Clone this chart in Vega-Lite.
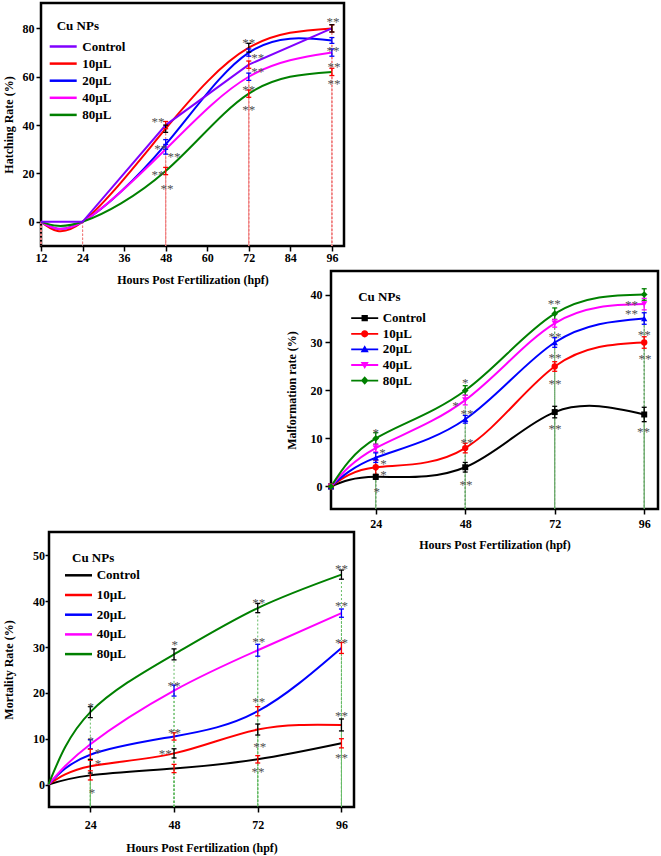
{
  "$schema": "https://vega.github.io/schema/vega-lite/v6.json",
  "padding": {"left": 0, "top": 1, "right": 0, "bottom": 0},
  "config": {
    "font": "Liberation Serif",
    "view": {"stroke": "black", "strokeWidth": 2.5},
    "axis": {"domain": false, "grid": false, "ticks": true, "tickSize": 5, "tickWidth": 1.5, "tickColor": "black",
      "labelFont": "Liberation Serif", "labelFontSize": 12, "labelFontWeight": "bold", "labelColor": "black",
      "titleFont": "Liberation Serif", "titleFontSize": 12, "titleFontWeight": "bold", "titleColor": "black",
      "labelFlush": false, "labelOverlap": false},
    "legend": {"labelFont": "Liberation Serif", "labelFontSize": 13, "labelFontWeight": "bold", "labelColor": "black",
      "titleFont": "Liberation Serif", "titleFontSize": 13, "titleFontWeight": "bold", "titleColor": "black",
      "orient": "none", "padding": 0, "symbolSize": 81}
  },
  "datasets": {
    "h": [
      {"s": "Control", "hpf": 12, "v": 0, "e": 0}, {"s": "Control", "hpf": 24, "v": 0, "e": 0}, {"s": "Control", "hpf": 48, "v": 40, "e": 1.5}, {"s": "Control", "hpf": 72, "v": 65, "e": 1.5}, {"s": "Control", "hpf": 96, "v": 80, "e": 1.5},
      {"s": "10µL", "hpf": 12, "v": 0, "e": 0}, {"s": "10µL", "hpf": 24, "v": 0, "e": 0}, {"s": "10µL", "hpf": 48, "v": 38.5, "e": 1.5}, {"s": "10µL", "hpf": 72, "v": 72, "e": 1.8}, {"s": "10µL", "hpf": 96, "v": 80, "e": 1.5},
      {"s": "20µL", "hpf": 12, "v": 0, "e": 0}, {"s": "20µL", "hpf": 24, "v": 0, "e": 0}, {"s": "20µL", "hpf": 48, "v": 32, "e": 2}, {"s": "20µL", "hpf": 72, "v": 70, "e": 1.5}, {"s": "20µL", "hpf": 96, "v": 75, "e": 1.2},
      {"s": "40µL", "hpf": 12, "v": 0, "e": 0}, {"s": "40µL", "hpf": 24, "v": 0, "e": 0}, {"s": "40µL", "hpf": 48, "v": 30, "e": 2}, {"s": "40µL", "hpf": 72, "v": 60, "e": 1.5}, {"s": "40µL", "hpf": 96, "v": 70, "e": 1.5},
      {"s": "80µL", "hpf": 12, "v": 0, "e": 0}, {"s": "80µL", "hpf": 24, "v": 0, "e": 0}, {"s": "80µL", "hpf": 48, "v": 21, "e": 1.5}, {"s": "80µL", "hpf": 72, "v": 53, "e": 1.5}, {"s": "80µL", "hpf": 96, "v": 62, "e": 1.5}
    ],
    "m": [
      {"s": "Control", "hpf": 12, "v": 0, "e": 0}, {"s": "Control", "hpf": 24, "v": 2, "e": 0.5}, {"s": "Control", "hpf": 48, "v": 4, "e": 1}, {"s": "Control", "hpf": 72, "v": 15.5, "e": 1.2}, {"s": "Control", "hpf": 96, "v": 15, "e": 1.5},
      {"s": "10µL", "hpf": 12, "v": 0, "e": 0}, {"s": "10µL", "hpf": 24, "v": 4, "e": 1.5}, {"s": "10µL", "hpf": 48, "v": 8, "e": 1}, {"s": "10µL", "hpf": 72, "v": 25, "e": 1}, {"s": "10µL", "hpf": 96, "v": 30, "e": 1.2},
      {"s": "20µL", "hpf": 12, "v": 0, "e": 0}, {"s": "20µL", "hpf": 24, "v": 6, "e": 1}, {"s": "20µL", "hpf": 48, "v": 14, "e": 0.8}, {"s": "20µL", "hpf": 72, "v": 30, "e": 1}, {"s": "20µL", "hpf": 96, "v": 35, "e": 1.2},
      {"s": "40µL", "hpf": 12, "v": 0, "e": 0}, {"s": "40µL", "hpf": 24, "v": 8, "e": 0.8}, {"s": "40µL", "hpf": 48, "v": 18, "e": 1}, {"s": "40µL", "hpf": 72, "v": 34, "e": 0.8}, {"s": "40µL", "hpf": 96, "v": 38, "e": 1.2},
      {"s": "80µL", "hpf": 12, "v": 0, "e": 0}, {"s": "80µL", "hpf": 24, "v": 10, "e": 1.2}, {"s": "80µL", "hpf": 48, "v": 20, "e": 1}, {"s": "80µL", "hpf": 72, "v": 36, "e": 1.2}, {"s": "80µL", "hpf": 96, "v": 40, "e": 1.2}
    ],
    "d": [
      {"s": "Control", "hpf": 12, "v": 0, "e": 0}, {"s": "Control", "hpf": 24, "v": 2, "e": 1}, {"s": "Control", "hpf": 48, "v": 3.5, "e": 0.9}, {"s": "Control", "hpf": 72, "v": 5.5, "e": 0.8}, {"s": "Control", "hpf": 96, "v": 9, "e": 1},
      {"s": "10µL", "hpf": 12, "v": 0, "e": 0}, {"s": "10µL", "hpf": 24, "v": 4, "e": 1.5}, {"s": "10µL", "hpf": 48, "v": 6.8, "e": 1}, {"s": "10µL", "hpf": 72, "v": 12, "e": 1.2}, {"s": "10µL", "hpf": 96, "v": 13, "e": 1.3},
      {"s": "20µL", "hpf": 12, "v": 0, "e": 0}, {"s": "20µL", "hpf": 24, "v": 6.5, "e": 1.2}, {"s": "20µL", "hpf": 48, "v": 10.5, "e": 0.8}, {"s": "20µL", "hpf": 72, "v": 16, "e": 1}, {"s": "20µL", "hpf": 96, "v": 29.8, "e": 1.2},
      {"s": "40µL", "hpf": 12, "v": 0, "e": 0}, {"s": "40µL", "hpf": 24, "v": 8.8, "e": 1}, {"s": "40µL", "hpf": 48, "v": 20.5, "e": 1.2}, {"s": "40µL", "hpf": 72, "v": 29.3, "e": 1.3}, {"s": "40µL", "hpf": 96, "v": 37.4, "e": 0.9},
      {"s": "80µL", "hpf": 12, "v": 0, "e": 0}, {"s": "80µL", "hpf": 24, "v": 15.8, "e": 1.2}, {"s": "80µL", "hpf": 48, "v": 28.4, "e": 1.2}, {"s": "80µL", "hpf": 72, "v": 38.5, "e": 1}, {"s": "80µL", "hpf": 96, "v": 45.8, "e": 1}
    ],
    "sh": [
      {"x": 45.8, "y": 42.4, "t": "**"}, {"x": 46.6, "y": 31.3, "t": "**"}, {"x": 50.4, "y": 27.9, "t": "**"}, {"x": 45.8, "y": 20.5, "t": "**"}, {"x": 48.4, "y": 14.8, "t": "**"},
      {"x": 72, "y": 75.4, "t": "**"}, {"x": 74.6, "y": 69.2, "t": "**"}, {"x": 74.6, "y": 63.4, "t": "**"}, {"x": 72, "y": 55.6, "t": "**"}, {"x": 72, "y": 47.4, "t": "**"},
      {"x": 96.3, "y": 83.7, "t": "**"}, {"x": 96.3, "y": 71.8, "t": "**"}, {"x": 96.6, "y": 65.1, "t": "**"}, {"x": 96.6, "y": 58.1, "t": "**"}
    ],
    "sm": [
      {"x": 24, "y": 11.7, "t": "*"}, {"x": 25.8, "y": 7.5, "t": "*"}, {"x": 26.1, "y": 5.2, "t": "*"}, {"x": 26.1, "y": 3.1, "t": "*"}, {"x": 24.3, "y": -0.5, "t": "*"},
      {"x": 48, "y": 22.1, "t": "*"}, {"x": 45.4, "y": 17.4, "t": "*"}, {"x": 48.5, "y": 15.7, "t": "**"}, {"x": 48.5, "y": 9.7, "t": "**"}, {"x": 48.2, "y": 1.0, "t": "**"},
      {"x": 71.9, "y": 38.75, "t": "**"}, {"x": 72.1, "y": 31.8, "t": "**"}, {"x": 72.1, "y": 27.3, "t": "**"}, {"x": 72.1, "y": 21.9, "t": "**"}, {"x": 72.1, "y": 12.7, "t": "**"},
      {"x": 92.6, "y": 38.5, "t": "**"}, {"x": 92.6, "y": 36.5, "t": "**"}, {"x": 96, "y": 32.1, "t": "**"}, {"x": 96.2, "y": 27.1, "t": "**"}, {"x": 95.8, "y": 12, "t": "**"}
    ],
    "sd": [
      {"x": 24.1, "y": 17.6, "t": "*"}, {"x": 24.1, "y": 10.2, "t": "*"}, {"x": 26.2, "y": 7.6, "t": "*"}, {"x": 26.2, "y": 5.1, "t": "*"}, {"x": 24.5, "y": -1.1, "t": "*"},
      {"x": 48.2, "y": 31.0, "t": "*"}, {"x": 48, "y": 22.2, "t": "**"}, {"x": 48.1, "y": 12.0, "t": "**"}, {"x": 45.5, "y": 7.4, "t": "**"},
      {"x": 72.3, "y": 40.3, "t": "**"}, {"x": 72.3, "y": 31.7, "t": "**"}, {"x": 72.3, "y": 18.7, "t": "**"}, {"x": 72.6, "y": 8.9, "t": "**"}, {"x": 72.1, "y": 3.3, "t": "**"},
      {"x": 96, "y": 47.6, "t": "**"}, {"x": 96, "y": 39.6, "t": "**"}, {"x": 96, "y": 31.6, "t": "**"}, {"x": 96, "y": 15.6, "t": "**"}, {"x": 96, "y": 6.5, "t": "**"}
    ]
  },
  "bounds": "flush",
  "spacing": 25,
  "resolve": {
    "scale": {"color": "independent", "stroke": "independent", "shape": "independent"},
    "legend": {"color": "independent", "stroke": "independent", "shape": "independent"}
  },
  "vconcat": [
    {
      "width": 303, "height": 243,
      "data": {"name": "h"},
      "transform": [{"calculate": "datum.v - datum.e", "as": "lo"}, {"calculate": "datum.v + datum.e", "as": "hi"}],
      "layer": [
        {"mark": {"type": "rule", "strokeDash": [2, 2], "strokeWidth": 1, "color": "#f08080"},
         "encoding": {
           "x": {"field": "hpf", "type": "quantitative", "scale": {"domain": [12, 99.5], "nice": false, "zero": false},
             "axis": {"values": [12, 24, 36, 48, 60, 72, 84, 96], "labelPadding": 1, "titlePadding": 11}, "title": "Hours Post Fertilization (hpf)"},
           "y": {"field": "hi", "type": "quantitative", "scale": {"domain": [-10, 90.5], "nice": false, "zero": false},
             "axis": {"values": [0, 20, 40, 60, 80], "labelPadding": 2, "titlePadding": 7}, "title": "Hatching Rate (%)"},
           "y2": {"datum": -10}}},
        {"transform": [{"filter": "datum.s !== 'Control'"}],
         "mark": {"type": "line", "interpolate": "natural", "strokeWidth": 2},
         "encoding": {
           "x": {"field": "hpf", "type": "quantitative", "title": "Hours Post Fertilization (hpf)"},
           "y": {"field": "v", "type": "quantitative", "title": "Hatching Rate (%)"},
           "color": {"field": "s", "type": "nominal", "scale": {"domain": ["Control", "10µL", "20µL", "40µL", "80µL"], "range": ["#8000ff", "#ff0000", "#0000ff", "#ff00ff", "#008000"]},
             "legend": {"title": "Cu NPs", "legendX": 15.7, "legendY": 17, "symbolType": "M-3,0H3", "symbolSize": 81, "symbolStrokeWidth": 2.5, "labelOffset": 12.6, "rowPadding": 3.1, "titlePadding": 7}}}},
        {"transform": [{"filter": "datum.s === 'Control'"}],
         "mark": {"type": "line", "interpolate": "linear", "strokeWidth": 2},
         "encoding": {
           "x": {"field": "hpf", "type": "quantitative", "title": "Hours Post Fertilization (hpf)"},
           "y": {"field": "v", "type": "quantitative", "title": "Hatching Rate (%)"},
           "color": {"field": "s", "type": "nominal"}}},
        {"transform": [{"filter": "datum.e > 0"}],
         "mark": {"type": "rule", "strokeWidth": 1.3},
         "encoding": {
           "x": {"field": "hpf", "type": "quantitative", "title": "Hours Post Fertilization (hpf)"},
           "y": {"field": "lo", "type": "quantitative", "title": "Hatching Rate (%)"},
           "y2": {"field": "hi"},
           "stroke": {"field": "s", "type": "nominal", "scale": {"domain": ["Control", "10µL", "20µL", "40µL", "80µL"], "range": ["#ff0000", "#000000", "#0000ff", "#0000ff", "#ff0000"]}, "legend": null}}},
        {"transform": [{"filter": "datum.e > 0"}],
         "mark": {"type": "rule", "strokeWidth": 1.3, "xOffset": -2.5, "x2Offset": 2.5},
         "encoding": {
           "x": {"field": "hpf", "type": "quantitative", "title": "Hours Post Fertilization (hpf)"},
           "x2": {"field": "hpf"},
           "y": {"field": "lo", "type": "quantitative", "title": "Hatching Rate (%)"},
           "stroke": {"field": "s", "type": "nominal", "legend": null}}},
        {"transform": [{"filter": "datum.e > 0"}],
         "mark": {"type": "rule", "strokeWidth": 1.3, "xOffset": -2.5, "x2Offset": 2.5},
         "encoding": {
           "x": {"field": "hpf", "type": "quantitative", "title": "Hours Post Fertilization (hpf)"},
           "x2": {"field": "hpf"},
           "y": {"field": "hi", "type": "quantitative", "title": "Hatching Rate (%)"},
           "stroke": {"field": "s", "type": "nominal", "legend": null}}},
        {"data": {"name": "sh"},
         "mark": {"type": "text", "fontSize": 13, "color": "#505050", "font": "Liberation Serif", "baseline": "middle", "dy": 3},
         "encoding": {
           "x": {"field": "x", "type": "quantitative", "title": "Hours Post Fertilization (hpf)"},
           "y": {"field": "y", "type": "quantitative", "title": "Hatching Rate (%)"},
           "text": {"field": "t"}}}
      ]
    },
    {
      "bounds": "flush",
      "spacing": 0,
      "hconcat": [
        {"width": 289.5, "height": 1, "data": {"values": []}, "mark": "point", "view": {"stroke": null}},
        {
          "width": 327, "height": 238,
          "data": {"name": "m"},
          "transform": [{"calculate": "datum.v - datum.e", "as": "lo"}, {"calculate": "datum.v + datum.e", "as": "hi"}],
          "layer": [
            {"transform": [{"filter": "datum.hpf > 12"}],
             "mark": {"type": "rule", "strokeDash": [2, 2], "strokeWidth": 1, "color": "#6aa86a"},
             "encoding": {
               "x": {"field": "hpf", "type": "quantitative", "scale": {"domain": [12, 99.7], "nice": false, "zero": false},
                 "axis": {"values": [24, 48, 72, 96], "labelPadding": 4, "titlePadding": 10}, "title": "Hours Post Fertilization (hpf)"},
               "y": {"field": "hi", "type": "quantitative", "scale": {"domain": [-4.7, 44.9], "nice": false, "zero": false},
                 "axis": {"values": [0, 10, 20, 30, 40], "tickSize": 6, "labelPadding": 3, "titlePadding": 12}, "title": "Malformation rate (%)"},
               "y2": {"datum": -4.7}}},
            {"mark": {"type": "line", "interpolate": "natural", "strokeWidth": 2},
             "encoding": {
               "x": {"field": "hpf", "type": "quantitative", "title": "Hours Post Fertilization (hpf)"},
               "y": {"field": "v", "type": "quantitative", "title": "Malformation rate (%)"},
               "color": {"field": "s", "type": "nominal", "scale": {"domain": ["Control", "10µL", "20µL", "40µL", "80µL"], "range": ["#000000", "#ff0000", "#0000ff", "#ff00ff", "#008000"]},
                 "legend": {"title": "Cu NPs", "legendX": 317.2, "legendY": 20.3, "symbolSize": 81, "symbolStrokeWidth": 0, "labelOffset": 11.5, "rowPadding": 1.6, "titlePadding": 7.4}}}},
            {"transform": [{"filter": "datum.e > 0"}],
             "mark": {"type": "rule", "strokeWidth": 1.3},
             "encoding": {
               "x": {"field": "hpf", "type": "quantitative", "title": "Hours Post Fertilization (hpf)"},
               "y": {"field": "lo", "type": "quantitative", "title": "Malformation rate (%)"},
               "y2": {"field": "hi"},
               "stroke": {"field": "s", "type": "nominal", "scale": {"domain": ["Control", "10µL", "20µL", "40µL", "80µL"], "range": ["#000000", "#ff0000", "#0000ff", "#ff00ff", "#008000"]}, "legend": null}}},
            {"transform": [{"filter": "datum.e > 0"}],
             "mark": {"type": "rule", "strokeWidth": 1.3, "xOffset": -2.5, "x2Offset": 2.5},
             "encoding": {
               "x": {"field": "hpf", "type": "quantitative", "title": "Hours Post Fertilization (hpf)"},
               "x2": {"field": "hpf"},
               "y": {"field": "lo", "type": "quantitative", "title": "Malformation rate (%)"},
               "stroke": {"field": "s", "type": "nominal", "legend": null}}},
            {"transform": [{"filter": "datum.e > 0"}],
             "mark": {"type": "rule", "strokeWidth": 1.3, "xOffset": -2.5, "x2Offset": 2.5},
             "encoding": {
               "x": {"field": "hpf", "type": "quantitative", "title": "Hours Post Fertilization (hpf)"},
               "x2": {"field": "hpf"},
               "y": {"field": "hi", "type": "quantitative", "title": "Malformation rate (%)"},
               "stroke": {"field": "s", "type": "nominal", "legend": null}}},
            {"transform": [{"filter": "datum.s === 'Control'"}],
             "mark": {"type": "point", "shape": "square", "filled": true, "opacity": 1, "size": 36},
             "encoding": {"x": {"field": "hpf", "type": "quantitative", "title": "Hours Post Fertilization (hpf)"}, "y": {"field": "v", "type": "quantitative", "title": "Malformation rate (%)"}, "color": {"field": "s", "type": "nominal"}}},
            {"transform": [{"filter": "datum.s === '10µL'"}],
             "mark": {"type": "point", "shape": "circle", "filled": true, "opacity": 1, "size": 40},
             "encoding": {"x": {"field": "hpf", "type": "quantitative", "title": "Hours Post Fertilization (hpf)"}, "y": {"field": "v", "type": "quantitative", "title": "Malformation rate (%)"}, "color": {"field": "s", "type": "nominal"}}},
            {"transform": [{"filter": "datum.s === '20µL'"}],
             "mark": {"type": "point", "shape": "triangle-up", "filled": true, "opacity": 1, "size": 40},
             "encoding": {"x": {"field": "hpf", "type": "quantitative", "title": "Hours Post Fertilization (hpf)"}, "y": {"field": "v", "type": "quantitative", "title": "Malformation rate (%)"}, "color": {"field": "s", "type": "nominal"}}},
            {"transform": [{"filter": "datum.s === '40µL'"}],
             "mark": {"type": "point", "shape": "triangle-down", "filled": true, "opacity": 1, "size": 40},
             "encoding": {"x": {"field": "hpf", "type": "quantitative", "title": "Hours Post Fertilization (hpf)"}, "y": {"field": "v", "type": "quantitative", "title": "Malformation rate (%)"}, "color": {"field": "s", "type": "nominal"}}},
            {"transform": [{"filter": "datum.s === '80µL'"}],
             "mark": {"type": "point", "shape": "diamond", "filled": true, "opacity": 1, "size": 45},
             "encoding": {"x": {"field": "hpf", "type": "quantitative", "title": "Hours Post Fertilization (hpf)"}, "y": {"field": "v", "type": "quantitative", "title": "Malformation rate (%)"}, "color": {"field": "s", "type": "nominal"}}},
            {"transform": [{"filter": "datum.hpf < 0"}],
             "mark": {"type": "point", "filled": true, "opacity": 1},
             "encoding": {
               "x": {"field": "hpf", "type": "quantitative", "title": "Hours Post Fertilization (hpf)"},
               "y": {"field": "v", "type": "quantitative", "title": "Malformation rate (%)"},
               "color": {"field": "s", "type": "nominal",
                 "legend": {"title": "Cu NPs", "legendX": 317.2, "legendY": 20.3, "symbolSize": 81, "symbolStrokeWidth": 0, "labelOffset": 11.5, "rowPadding": 1.6, "titlePadding": 7.4}},
               "shape": {"field": "s", "type": "nominal",
                 "scale": {"domain": ["Control", "10µL", "20µL", "40µL", "80µL"],
                   "range": [
                     "M-3,-0.2H3V0.2H-3ZM-0.7,-0.7H0.7V0.7H-0.7Z",
                     "M-3,-0.2H3V0.2H-3ZM0.8,0A0.8,0.8,0,1,1,-0.8,0A0.8,0.8,0,1,1,0.8,0Z",
                     "M-3,-0.2H3V0.2H-3ZM0,-0.9L0.9,0.65L-0.9,0.65Z",
                     "M-3,-0.2H3V0.2H-3ZM0,0.9L-0.9,-0.65L0.9,-0.65Z",
                     "M-3,-0.2H3V0.2H-3ZM0,-0.95L0.85,0L0,0.95L-0.85,0Z"]},
                 "legend": {"title": "Cu NPs", "legendX": 317.2, "legendY": 20.3, "symbolSize": 81, "symbolStrokeWidth": 0, "labelOffset": 11.5, "rowPadding": 1.6, "titlePadding": 7.4}}}},
            {"data": {"name": "sm"},
             "mark": {"type": "text", "fontSize": 13, "color": "#505050", "font": "Liberation Serif", "baseline": "middle", "dy": 3},
             "encoding": {
               "x": {"field": "x", "type": "quantitative", "title": "Hours Post Fertilization (hpf)"},
               "y": {"field": "y", "type": "quantitative", "title": "Malformation rate (%)"},
               "text": {"field": "t"}}}
          ]
        }
      ]
    },
    {"width": 1, "height": 210.2, "data": {"values": []}, "mark": "point", "view": {"stroke": null}},
    {
      "bounds": "flush",
      "spacing": 0,
      "hconcat": [
        {"width": 7.7, "height": 1, "data": {"values": []}, "mark": "point", "view": {"stroke": null}},
        {
          "width": 305, "height": 275,
          "data": {"name": "d"},
          "transform": [{"calculate": "datum.v - datum.e", "as": "lo"}, {"calculate": "datum.v + datum.e", "as": "hi"}],
          "layer": [
            {"transform": [{"filter": "datum.hpf > 12"}],
             "mark": {"type": "rule", "strokeDash": [2, 2], "strokeWidth": 1, "color": "#66bb66"},
             "encoding": {
               "x": {"field": "hpf", "type": "quantitative", "scale": {"domain": [12.15, 99.6], "nice": false, "zero": false},
                 "axis": {"values": [24, 48, 72, 96], "labelPadding": 7, "titlePadding": 12}, "title": "Hours Post Fertilization (hpf)"},
               "y": {"field": "hi", "type": "quantitative", "scale": {"domain": [-4.9, 55.1], "nice": false, "zero": false},
                 "axis": {"values": [0, 10, 20, 30, 40, 50], "tickSize": 4, "labelPadding": 0.5, "titlePadding": 17.5}, "title": "Mortality Rate (%)"},
               "y2": {"datum": -4.9}}},
            {"mark": {"type": "line", "interpolate": "natural", "strokeWidth": 2},
             "encoding": {
               "x": {"field": "hpf", "type": "quantitative", "title": "Hours Post Fertilization (hpf)"},
               "y": {"field": "v", "type": "quantitative", "title": "Mortality Rate (%)"},
               "color": {"field": "s", "type": "nominal", "scale": {"domain": ["Control", "10µL", "20µL", "40µL", "80µL"], "range": ["#000000", "#ff0000", "#0000ff", "#ff00ff", "#008000"]},
                 "legend": {"title": "Cu NPs", "legendX": 31, "legendY": 19.5, "symbolType": "M-3,0H3", "symbolSize": 81, "symbolStrokeWidth": 2.5, "labelOffset": 11.7, "rowPadding": 5.7, "titlePadding": 4.3}}}},
            {"transform": [{"filter": "datum.e > 0"}],
             "mark": {"type": "rule", "strokeWidth": 1.3},
             "encoding": {
               "x": {"field": "hpf", "type": "quantitative", "title": "Hours Post Fertilization (hpf)"},
               "y": {"field": "lo", "type": "quantitative", "title": "Mortality Rate (%)"},
               "y2": {"field": "hi"},
               "stroke": {"field": "s", "type": "nominal", "scale": {"domain": ["Control", "10µL", "20µL", "40µL", "80µL"], "range": ["#ff0000", "#000000", "#ff0000", "#0000ff", "#000000"]}, "legend": null}}},
            {"transform": [{"filter": "datum.e > 0"}],
             "mark": {"type": "rule", "strokeWidth": 1.3, "xOffset": -2.5, "x2Offset": 2.5},
             "encoding": {
               "x": {"field": "hpf", "type": "quantitative", "title": "Hours Post Fertilization (hpf)"},
               "x2": {"field": "hpf"},
               "y": {"field": "lo", "type": "quantitative", "title": "Mortality Rate (%)"},
               "stroke": {"field": "s", "type": "nominal", "legend": null}}},
            {"transform": [{"filter": "datum.e > 0"}],
             "mark": {"type": "rule", "strokeWidth": 1.3, "xOffset": -2.5, "x2Offset": 2.5},
             "encoding": {
               "x": {"field": "hpf", "type": "quantitative", "title": "Hours Post Fertilization (hpf)"},
               "x2": {"field": "hpf"},
               "y": {"field": "hi", "type": "quantitative", "title": "Mortality Rate (%)"},
               "stroke": {"field": "s", "type": "nominal", "legend": null}}},
            {"data": {"name": "sd"},
             "mark": {"type": "text", "fontSize": 13, "color": "#505050", "font": "Liberation Serif", "baseline": "middle", "dy": 3},
             "encoding": {
               "x": {"field": "x", "type": "quantitative", "title": "Hours Post Fertilization (hpf)"},
               "y": {"field": "y", "type": "quantitative", "title": "Mortality Rate (%)"},
               "text": {"field": "t"}}}
          ]
        }
      ]
    }
  ]
}
